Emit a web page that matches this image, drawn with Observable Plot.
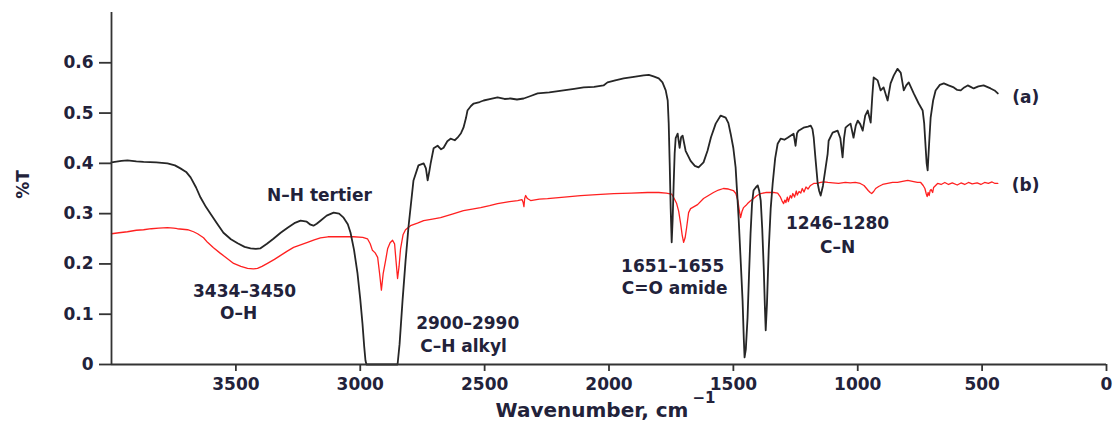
<!DOCTYPE html>
<html>
<head>
<meta charset="utf-8">
<script src="https://cdn.jsdelivr.net/npm/d3@7"></script>
<script src="https://cdn.jsdelivr.net/npm/@observablehq/plot@0.6"></script>
<style>
  html, body { margin: 0; padding: 0; background: #fff; }
  svg { display: block; }
</style>
</head>
<body>
<div id="chart"></div>
<script>
// Tick values
const xTicks = [3500, 3000, 2500, 2000, 1500, 1000, 500, 0];
const yTicks = [0, 0.1, 0.2, 0.3, 0.4, 0.5, 0.6];

// Spectrum (a): [wavenumber cm-1, %T]
const spectrumA = [
  [4000,0.402],[3960,0.405],[3936,0.406],[3900,0.404],[3871,0.403],[3820,0.402],[3775,0.400],[3745,0.396],
  [3723,0.390],[3700,0.383],[3682,0.372],[3660,0.352],[3642,0.332],[3620,0.313],[3602,0.300],[3575,0.280],
  [3550,0.262],[3520,0.249],[3493,0.241],[3465,0.234],[3441,0.231],[3420,0.230],[3401,0.231],[3375,0.240],
  [3349,0.250],[3320,0.262],[3292,0.272],[3265,0.281],[3240,0.286],[3215,0.284],[3200,0.278],[3188,0.276],
  [3175,0.280],[3160,0.286],[3135,0.296],[3107,0.302],[3085,0.300],[3067,0.292],[3050,0.279],[3039,0.262],
  [3025,0.228],[3011,0.181],[3000,0.130],[2991,0.081],[2984,0.035],[2979,0.008],[2975,0],[2850,0],
  [2842,0.040],[2830,0.127],[2818,0.205],[2806,0.274],[2786,0.366],[2766,0.396],[2745,0.400],[2736,0.390],
  [2729,0.366],[2722,0.385],[2717,0.400],[2705,0.430],[2689,0.435],[2675,0.428],[2665,0.431],[2650,0.444],
  [2637,0.449],[2620,0.446],[2609,0.451],[2595,0.460],[2585,0.471],[2575,0.490],[2569,0.505],[2555,0.514],
  [2544,0.519],[2520,0.522],[2504,0.525],[2475,0.528],[2448,0.531],[2420,0.528],[2396,0.529],[2370,0.527],
  [2343,0.529],[2315,0.534],[2287,0.539],[2240,0.541],[2183,0.545],[2140,0.548],[2102,0.551],[2060,0.552],
  [2022,0.555],[2006,0.561],[1975,0.565],[1941,0.569],[1900,0.572],[1861,0.575],[1840,0.576],[1821,0.573],
  [1800,0.569],[1785,0.561],[1772,0.545],[1764,0.525],[1760,0.480],[1756,0.400],[1752,0.310],[1748,0.243],
  [1744,0.290],[1740,0.360],[1736,0.420],[1732,0.450],[1724,0.459],[1716,0.431],[1710,0.452],[1704,0.455],
  [1692,0.425],[1672,0.405],[1655,0.395],[1640,0.392],[1620,0.402],[1604,0.425],[1590,0.452],[1571,0.479],
  [1551,0.495],[1531,0.491],[1520,0.480],[1511,0.459],[1500,0.430],[1491,0.392],[1479,0.292],[1470,0.200],
  [1463,0.127],[1458,0.050],[1455,0.014],[1450,0.030],[1443,0.093],[1437,0.180],[1431,0.260],[1425,0.320],
  [1419,0.346],[1410,0.352],[1402,0.356],[1396,0.345],[1390,0.326],[1384,0.270],[1378,0.193],[1373,0.110],
  [1370,0.068],[1365,0.120],[1358,0.227],[1350,0.310],[1342,0.360],[1332,0.410],[1322,0.439],[1310,0.449],
  [1295,0.447],[1282,0.451],[1270,0.455],[1258,0.459],[1250,0.435],[1244,0.460],[1238,0.465],[1218,0.471],
  [1200,0.473],[1189,0.475],[1182,0.468],[1177,0.451],[1170,0.410],[1161,0.360],[1155,0.345],[1149,0.336],
  [1140,0.355],[1129,0.392],[1121,0.419],[1117,0.445],[1101,0.461],[1081,0.465],[1070,0.450],[1061,0.412],
  [1055,0.450],[1049,0.471],[1040,0.475],[1029,0.479],[1017,0.451],[1008,0.475],[1000,0.485],[990,0.478],
  [980,0.465],[970,0.495],[960,0.505],[955,0.495],[948,0.481],[942,0.530],[936,0.571],[928,0.568],
  [920,0.565],[908,0.545],[896,0.551],[880,0.525],[868,0.559],[855,0.575],[840,0.588],[827,0.580],
  [815,0.545],[805,0.555],[795,0.561],[785,0.550],[775,0.539],[755,0.519],[739,0.505],[733,0.480],
  [727,0.431],[723,0.400],[719,0.386],[713,0.440],[707,0.491],[697,0.525],[687,0.545],[670,0.556],
  [654,0.559],[635,0.555],[614,0.551],[600,0.546],[586,0.545],[572,0.551],[558,0.555],[546,0.552],
  [534,0.549],[515,0.553],[494,0.555],[480,0.552],[466,0.549],[450,0.545],[437,0.539]
];

// Spectrum (b): [wavenumber cm-1, %T]
const spectrumB = [
  [4000,0.260],[3970,0.262],[3936,0.264],[3900,0.267],[3871,0.268],[3840,0.270],[3810,0.271],[3775,0.272],
  [3750,0.271],[3735,0.270],[3694,0.268],[3670,0.264],[3654,0.260],[3630,0.252],[3614,0.243],[3590,0.232],
  [3562,0.221],[3535,0.211],[3509,0.201],[3480,0.195],[3453,0.191],[3430,0.190],[3413,0.191],[3395,0.195],
  [3373,0.201],[3345,0.209],[3320,0.217],[3295,0.225],[3268,0.233],[3240,0.238],[3212,0.243],[3185,0.248],
  [3160,0.252],[3130,0.254],[3107,0.254],[3060,0.254],[3027,0.254],[2990,0.253],[2971,0.250],[2960,0.240],
  [2951,0.227],[2940,0.222],[2930,0.213],[2922,0.180],[2915,0.148],[2908,0.180],[2898,0.207],[2890,0.230],
  [2880,0.242],[2870,0.247],[2862,0.240],[2856,0.205],[2850,0.171],[2844,0.195],[2838,0.230],[2828,0.258],
  [2818,0.268],[2798,0.276],[2770,0.281],[2745,0.286],[2710,0.289],[2677,0.292],[2630,0.299],[2585,0.306],
  [2550,0.309],[2516,0.312],[2480,0.316],[2448,0.320],[2400,0.324],[2367,0.326],[2350,0.328],[2345,0.322],
  [2342,0.314],[2339,0.330],[2335,0.336],[2328,0.330],[2315,0.326],[2280,0.329],[2247,0.330],[2180,0.333],
  [2114,0.336],[2050,0.338],[1981,0.340],[1910,0.341],[1845,0.342],[1800,0.342],[1770,0.341],[1748,0.339],
  [1738,0.330],[1728,0.320],[1720,0.305],[1712,0.280],[1706,0.258],[1700,0.243],[1694,0.252],[1688,0.272],
  [1680,0.302],[1672,0.310],[1658,0.314],[1644,0.318],[1620,0.330],[1600,0.336],[1580,0.342],[1560,0.347],
  [1540,0.350],[1520,0.349],[1500,0.346],[1490,0.340],[1482,0.326],[1476,0.306],[1471,0.292],[1465,0.305],
  [1459,0.312],[1450,0.316],[1443,0.320],[1432,0.325],[1419,0.330],[1405,0.336],[1390,0.340],[1370,0.342],
  [1350,0.342],[1335,0.342],[1322,0.341],[1312,0.334],[1304,0.325],[1298,0.320],[1293,0.327],[1289,0.322],
  [1283,0.333],[1279,0.324],[1271,0.336],[1266,0.331],[1261,0.340],[1254,0.333],[1247,0.345],[1243,0.337],
  [1236,0.344],[1229,0.341],[1223,0.350],[1216,0.343],[1208,0.353],[1200,0.349],[1190,0.356],[1177,0.360],
  [1165,0.360],[1149,0.362],[1135,0.363],[1120,0.362],[1100,0.361],[1077,0.360],[1050,0.362],[1030,0.361],
  [1010,0.362],[990,0.360],[975,0.356],[968,0.352],[958,0.346],[950,0.342],[944,0.340],[936,0.344],
  [928,0.350],[916,0.354],[900,0.358],[880,0.360],[860,0.362],[840,0.362],[820,0.364],[799,0.366],
  [780,0.364],[760,0.362],[747,0.362],[737,0.356],[730,0.350],[725,0.340],[721,0.334],[717,0.342],
  [713,0.336],[709,0.346],[705,0.348],[699,0.342],[695,0.352],[687,0.356],[679,0.360],[665,0.358],
  [650,0.362],[635,0.358],[620,0.361],[600,0.357],[585,0.361],[570,0.358],[555,0.362],[540,0.359],
  [520,0.361],[505,0.358],[490,0.362],[475,0.360],[460,0.363],[448,0.360],[437,0.360]
];

// Band annotations: label, anchor wavenumber, anchor %T
const annotations = [
  {label: "N–H tertier", wn: 3164, t: 0.336},
  {label: "3434–3450",   wn: 3465, t: 0.145},
  {label: "O–H",         wn: 3489, t: 0.101},
  {label: "2900–2990",   wn: 2568, t: 0.0815},
  {label: "C–H alkyl",   wn: 2585, t: 0.036},
  {label: "1651–1655",   wn: 1744, t: 0.195},
  {label: "C=O amide",   wn: 1736, t: 0.151},
  {label: "1246–1280",   wn: 1081, t: 0.280},
  {label: "C–N",         wn: 1081, t: 0.233}
];

// Series labels
const seriesLabels = [
  {label: "(a)", wn: 325, t: 0.531},
  {label: "(b)", wn: 325, t: 0.356}
];

const ink = "#22223a";
const axisInk = "#333333";

const chart = Plot.plot({
  width: 1116,
  height: 423,
  marginLeft: 111,
  marginRight: 10,
  marginTop: 12,
  marginBottom: 59,
  style: {fontFamily: "DejaVu Sans", background: "#ffffff", overflow: "visible"},
  x: {domain: [4000, 0]},
  y: {domain: [0, 0.7]},
  marks: [
    Plot.line(spectrumB, {stroke: "#ff2020", strokeWidth: 1.3}),
    Plot.line(spectrumA, {stroke: "#262626", strokeWidth: 1.8}),
    Plot.ruleX([4000], {stroke: axisInk, strokeWidth: 1.8}),
    Plot.ruleY([0], {stroke: axisInk, strokeWidth: 1.8}),
    Plot.axisX(xTicks, {
      tickSize: 7, tickPadding: 6, tickFormat: d => String(d),
      stroke: axisInk, strokeWidth: 1.8, fill: ink,
      fontSize: 17, fontWeight: "bold", label: null
    }),
    Plot.axisY(yTicks, {
      tickSize: 12, tickPadding: 6, tickFormat: d => d === 0 ? "0" : d.toFixed(1),
      stroke: axisInk, strokeWidth: 1.8, fill: ink,
      fontSize: 17, fontWeight: "bold", label: null
    }),
    Plot.text(annotations, {
      x: "wn", y: "t", text: "label", fill: ink, fontSize: 17, fontWeight: "bold",
      textAnchor: "middle", lineAnchor: "middle", ariaLabel: "annotation"
    }),
    Plot.text(seriesLabels, {
      x: "wn", y: "t", text: "label", fill: ink, fontSize: 17, fontWeight: "bold",
      textAnchor: "middle", lineAnchor: "middle"
    }),
    Plot.text(["%T"], {
      text: d => d, frameAnchor: "left", dx: -88, dy: -4, rotate: -90,
      fill: ink, fontSize: 17, fontWeight: "bold", textAnchor: "middle", lineAnchor: "middle"
    }),
    Plot.text(["Wavenumber, cm"], {
      text: d => d, frameAnchor: "bottom", dx: -17, dy: 46,
      fill: ink, fontSize: 20, fontWeight: "bold", textAnchor: "middle", lineAnchor: "middle"
    }),
    Plot.text(["−1"], {
      text: d => d, frameAnchor: "bottom", dx: 95, dy: 34,
      fill: ink, fontSize: 15, fontWeight: "bold", textAnchor: "middle", lineAnchor: "middle"
    })
  ]
});

d3.select(chart).selectAll('g[aria-label="annotation"] text').style("letter-spacing", "0.6px");
document.getElementById("chart").appendChild(chart);
</script>
</body>
</html>
